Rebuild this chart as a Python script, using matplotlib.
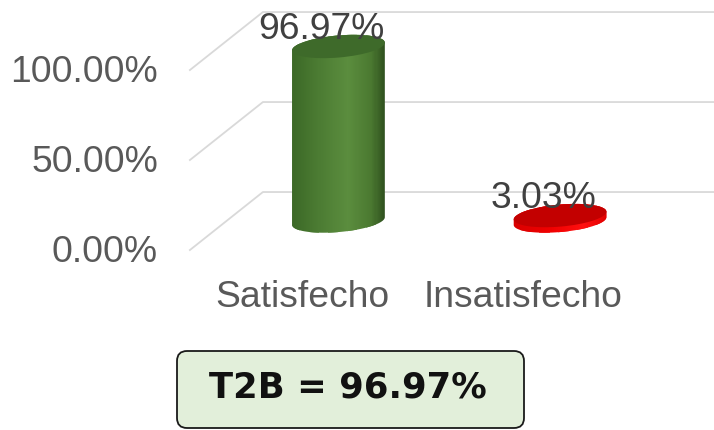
import matplotlib
matplotlib.use("Agg")
import matplotlib.pyplot as plt
import numpy as np
from matplotlib.patches import Polygon, Ellipse, FancyBboxPatch
from matplotlib.transforms import IdentityTransform
from matplotlib.lines import Line2D
from matplotlib.colors import LinearSegmentedColormap

# ---- data ----
categories = ["Satisfecho", "Insatisfecho"]
values = [96.97, 3.03]
value_labels = ["96.97%", "3.03%"]
ticks = [0, 50, 100]
tick_labels = ["0.00%", "50.00%", "100.00%"]
summary_text = "T2B = 96.97%"

# ---- layout ----
W, H, DPI = 714, 430, 100
fig = plt.figure(figsize=(W / DPI, H / DPI), dpi=DPI)
ax = fig.add_axes([0, 0, 1, 1])
ax.set_autoscale_on(False)
ax.set_xlim(-1.528, 1.695)
ax.set_ylim(-116.1, 122.8)
ax.axis("off")
ID = IdentityTransform()
FONT = "Liberation Sans"
FS = 26.8

DX, DY = 36.5, 29.0       # half depth offset in pixels
XLEFT = -0.506            # left wall position (mid-depth, data x)


def px(x, y):
    return ax.transData.transform((x, y))


# gridlines (side wall + back wall) and tick labels
for v, lab in zip(ticks, tick_labels):
    mx, my = px(XLEFT, v)
    fx, fy = mx - DX, my - DY
    bx, by = mx + DX, my + DY
    ax.add_line(Line2D([fx, bx, W + 5], [fy, by, by], transform=ID,
                       color="#D9D9D9", lw=1.3, clip_on=False, zorder=1))
    ax.text(fx - 32, fy - 2, lab, transform=ID, ha="right", va="center",
            fontsize=FS, color="#595959", family=FONT)

# category labels
for i, c in enumerate(categories):
    mx, my = px(i, 0)
    ax.text(mx - DX, my - DY - 47, c, transform=ID, ha="center", va="center",
            fontsize=FS, color="#595959", family=FONT)

green_side = LinearSegmentedColormap.from_list(
    "g", [(0, "#3B6826"), (0.3, "#4C7C33"), (0.6, "#5B8D3E"),
          (0.85, "#4A7830"), (1.0, "#2C4C1C")])
red_side = LinearSegmentedColormap.from_list(
    "r", [(0, "#D80000"), (0.4, "#F00000"), (0.75, "#FF1010"), (1.0, "#E00000")])
sides = [green_side, red_side]
tops = ["#3E6A2A", "#C30000"]

RX, RY, ANG = 46.5, 11.0, 5.0
th = np.deg2rad(ANG)


def ell(cx, cy, t):
    x = RX * np.cos(t)
    y = RY * np.sin(t)
    return (cx + x * np.cos(th) - y * np.sin(th),
            cy + x * np.sin(th) + y * np.cos(th))


for i, v in enumerate(values):
    cx, cy0 = px(i, 0)
    _, cy1 = px(i, v)
    tb = np.linspace(np.pi, 2 * np.pi, 60)
    tt = np.linspace(0, np.pi, 60)
    bxs, bys = ell(cx, cy0, tb)
    txs, tys = ell(cx, cy1, tt)
    verts = np.column_stack([np.concatenate([bxs, txs]),
                             np.concatenate([bys, tys])])
    body = Polygon(verts, closed=True, transform=ID, fc="none", ec="none")
    ax.add_patch(body)
    n = 90
    xs = np.linspace(cx - RX - 1, cx + RX + 1, n + 1)
    for k in range(n):
        frac = (k + 0.5) / n
        r = Polygon([(xs[k], cy0 - RY - 8), (xs[k + 1] + 0.6, cy0 - RY - 8),
                     (xs[k + 1] + 0.6, cy1 + RY + 8), (xs[k], cy1 + RY + 8)],
                    closed=True, transform=ID, fc=sides[i](frac), ec="none",
                    zorder=2)
        ax.add_patch(r)
        r.set_clip_path(body)
    top = Ellipse((cx, cy1), 2 * RX, 2 * RY, angle=ANG, transform=ID,
                  fc=tops[i], ec="none", zorder=3)
    ax.add_patch(top)
    ax.text(cx - 17, cy1 + 17, value_labels[i], transform=ID, ha="center",
            va="center", fontsize=FS, color="#404040", family=FONT, zorder=4)

# summary box
box = FancyBboxPatch((177, H - 428), 347, 77, transform=ID,
                     boxstyle="round,pad=0,rounding_size=10",
                     fc="#E2EFDA", ec="#1A1A1A", lw=1.3, zorder=5)
ax.add_patch(box)
ax.text(348, H - 388, summary_text, transform=ID, ha="center", va="center",
        fontsize=25.5, fontweight="bold", color="#111111",
        family="DejaVu Sans", zorder=6)

fig.savefig("out.png", dpi=DPI)
